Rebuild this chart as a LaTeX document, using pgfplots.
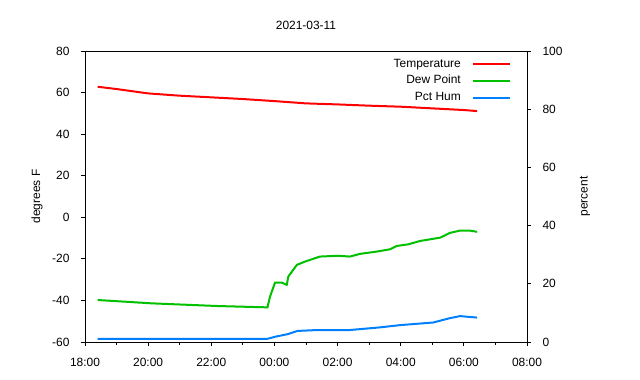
\documentclass[border=0pt]{standalone}
\usepackage{pgfplots}
\pgfplotsset{compat=1.18}
\usepackage{fontspec}
\setmainfont{Liberation Sans}
\definecolor{tred}{RGB}{255,0,0}
\definecolor{dgreen}{RGB}{0,192,0}
\definecolor{hblue}{RGB}{0,128,255}
\pgfplotstableread{
h v
18.40 62.8
19.00 61.7
20.00 59.6
21.00 58.5
22.00 57.7
23.00 56.9
24.00 55.9
25.00 54.8
26.00 54.3
27.00 53.7
28.00 53.2
29.00 52.4
30.00 51.6
30.42 51.1
}\temptable
\pgfplotstableread{
h v
18.40 -39.8
20.11 -41.4
22.21 -42.7
23.70 -43.3
23.78 -43.3
23.86 -38.2
24.02 -31.4
24.23 -31.4
24.39 -32.5
24.44 -28.5
24.71 -22.9
24.97 -21.3
25.44 -18.9
26.02 -18.5
26.39 -18.9
26.71 -17.6
27.24 -16.5
27.66 -15.4
27.87 -13.8
28.24 -13.0
28.61 -11.4
29.25 -9.8
29.56 -7.5
29.88 -6.4
30.19 -6.4
30.42 -7.0
}\dewtable
\pgfplotstableread{
h v
18.40 1.1
23.78 1.1
24.02 1.8
24.42 2.7
24.73 3.8
25.33 4.1
26.37 4.1
27.32 5.0
27.98 5.8
29.03 6.7
29.56 8.2
29.88 8.9
30.19 8.6
30.42 8.4
}\humtable
\begin{document}
\begin{tikzpicture}[font=\fontsize{12}{14}\selectfont]
\useasboundingbox (-85bp,-38bp) rectangle (555bp,342bp);
\begin{axis}[
  at={(0,0)}, anchor=south west,
  scale only axis, width=442bp, height=291bp,
  xmin=18, xmax=32, ymin=-60, ymax=80,
  xtick={18,20,...,32},
  xticklabels={18:00,20:00,22:00,00:00,02:00,04:00,06:00,08:00},
  minor xtick={19,21,...,31},
  ytick={-60,-40,...,80},
  tick align=outside, xtick pos=bottom, ytick pos=left,
  major tick length=4bp, minor tick length=2.5bp,
  tick style={black, line width=0.8pt},
  axis line style={line width=0.8pt},
  /pgf/number format/assume math mode=true,
  tick label style={font=\fontsize{12}{14}\selectfont},
  xticklabel style={yshift=-9bp},
  yticklabel style={xshift=-8bp},
  ylabel={degrees F},
  ylabel style={at={(axis description cs:-0.1086,0.5)}, anchor=center},
  title={2021-03-11},
  title style={at={(axis description cs:0.5,1)}, anchor=center, yshift=20bp},
  legend style={draw=none, fill=none, at={(rel axis cs:1,1)}, anchor=north east,
    xshift=-16bp, yshift=-7bp, inner sep=0pt, row sep=4.7bp,
    nodes={inner sep=0bp, text height=9bp, text depth=3bp},
    font=\fontsize{12}{14}\selectfont},
  legend cell align=right,
  legend plot pos=right,
  /tikz/every odd column/.append style={column sep=11bp},
  legend image code/.code={\draw[#1] (0bp,0bp) -- (37bp,0bp);},
]
\addplot[tred, line width=2bp] table[x=h, y=v] {\temptable};
\addlegendentry{Temperature}
\addplot[dgreen, line width=2bp] table[x=h, y=v] {\dewtable};
\addlegendentry{Dew Point}
\addlegendimage{hblue, line width=2bp}
\addlegendentry{Pct Hum}
\end{axis}
\begin{axis}[
  at={(0,0)}, anchor=south west,
  scale only axis, width=442bp, height=291bp,
  xmin=18, xmax=32, ymin=0, ymax=100,
  axis x line=none, axis y line*=right,
  ytick={0,20,...,100},
  tick align=outside,
  major tick length=4bp,
  tick style={black, line width=0.8pt},
  axis line style={line width=0.8pt},
  /pgf/number format/assume math mode=true,
  tick label style={font=\fontsize{12}{14}\selectfont},
  yticklabel style={xshift=8bp},
  ylabel={percent},
  ylabel style={at={(axis description cs:1.1312,0.5)}, anchor=center},
]
\addplot[hblue, line width=2bp] table[x=h, y=v] {\humtable};
\end{axis}
\end{tikzpicture}
\end{document}
